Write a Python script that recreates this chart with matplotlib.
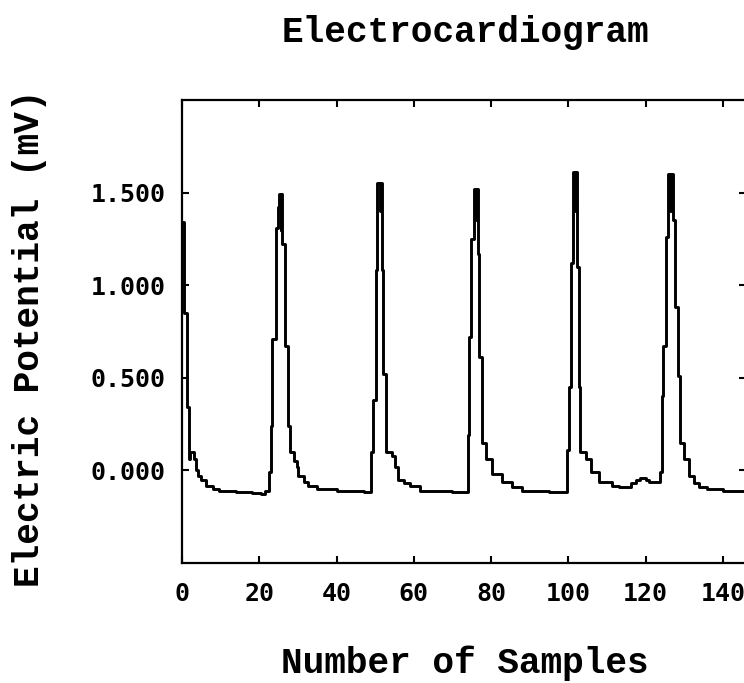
import matplotlib
matplotlib.use("Agg")
import matplotlib.pyplot as plt
from matplotlib.ticker import FormatStrFormatter

# ECG trace (sample index -> potential in mV), step vertices
sample = [0.0, 0.5, 1.2, 1.7, 2.2, 3.0, 3.5, 4.2, 4.9, 6.2, 8.0, 9.6, 14.0, 18.0, 20.5, 21.6,
          22.4, 23.1, 23.4, 24.3, 24.8, 25.1, 25.5, 25.7, 25.9, 26.7, 27.4, 28.0, 29.0, 29.8,
          30.1, 31.5, 32.7, 35.0, 40.0, 47.0,
          48.9, 49.5, 50.1, 50.6, 51.2, 51.5, 51.9, 52.1, 52.8, 54.3, 55.1, 56.0, 57.5, 59.1,
          61.7, 65.0, 70.0,
          74.1, 74.4, 74.9, 75.5, 76.0, 76.3, 76.6, 76.9, 77.6, 78.6, 80.3, 82.9, 85.5, 88.0,
          95.0,
          99.7, 100.2, 100.6, 101.2, 101.7, 102.0, 102.3, 102.7, 103.0, 104.5, 105.8, 107.9,
          111.4, 113.0, 116.2, 117.5, 118.5, 120.0, 121.0,
          123.8, 124.2, 124.5, 125.2, 125.9, 126.4, 126.7, 127.0, 127.6, 128.3, 128.9, 130.0,
          131.3, 132.5, 133.9, 136.0, 140.0, 146.0]
potential = [1.34, 0.85, 0.34, 0.06, 0.10, 0.06, 0.00, -0.03, -0.05, -0.085, -0.10, -0.11, -0.115, -0.12, -0.13, -0.11,
             -0.01, 0.24, 0.71, 1.31, 1.42, 1.49, 1.30, 1.49, 1.22, 0.67, 0.24, 0.10, 0.05, 0.02,
             -0.03, -0.06, -0.085, -0.10, -0.11, -0.115,
             0.10, 0.38, 1.08, 1.55, 1.40, 1.55, 1.08, 0.52, 0.10, 0.08, 0.02, -0.05, -0.07, -0.085,
             -0.11, -0.11, -0.115,
             0.19, 0.72, 1.25, 1.52, 1.35, 1.52, 1.17, 0.61, 0.15, 0.06, -0.02, -0.065, -0.09, -0.11,
             -0.115,
             0.11, 0.45, 1.12, 1.61, 1.40, 1.61, 1.10, 0.45, 0.10, 0.06, -0.01, -0.06,
             -0.085, -0.09, -0.07, -0.05, -0.04, -0.05, -0.065,
             -0.01, 0.40, 0.67, 1.26, 1.60, 1.40, 1.60, 1.35, 0.88, 0.51, 0.15, 0.06,
             -0.03, -0.07, -0.09, -0.10, -0.11, -0.11]

x_ticks = [0, 20, 40, 60, 80, 100, 120, 140]
y_ticks = [0.0, 0.5, 1.0, 1.5]

title_text = "Electrocardiogram"
x_label = "Number of Samples"
y_label = "Electric Potential (mV)"

W, H = 744, 683
fig = plt.figure(figsize=(W / 100, H / 100), dpi=100)
L, R, T, B = 182, 746, 100, 563
ax = fig.add_axes([L / W, 1 - B / H, (R - L) / W, (B - T) / H])

ax.plot(sample, potential, drawstyle="steps-post", color="black", linewidth=2.1)

ax.set_xlim(0, 146)
ax.set_ylim(-0.5, 2.0)
ax.set_xticks(x_ticks)
ax.set_yticks(y_ticks)
ax.yaxis.set_major_formatter(FormatStrFormatter("%.3f"))
ax.tick_params(direction="in", length=5, width=1.5, top=True, right=True,
               labelsize=18)
ax.tick_params(axis="x", pad=14)
ax.tick_params(axis="y", pad=12)
for lab in ax.get_xticklabels() + ax.get_yticklabels():
    lab.set_family("DejaVu Sans Mono")
    lab.set_fontweight("bold")
for s in ax.spines.values():
    s.set_linewidth(1.6)

mono = ["Liberation Mono", "DejaVu Sans Mono"]
fig.text(465 / W, 1 - 32 / H, title_text, family=mono, fontweight="bold",
         fontsize=26, ha="center", va="center")
fig.text(465 / W, 1 - 663 / H, x_label, family=mono, fontweight="bold",
         fontsize=26, ha="center", va="center")
fig.text(30 / W, 1 - 338 / H, y_label, family=mono, fontweight="bold",
         fontsize=26, ha="center", va="center", rotation=90)

fig.savefig("out.png", dpi=100)
